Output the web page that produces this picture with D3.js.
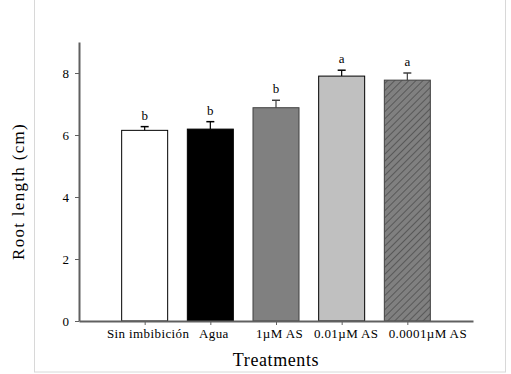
<!DOCTYPE html>
<html lang="en">
<head>
    <meta charset="UTF-8">
    <title>Root length</title>
    <script src="https://d3js.org/d3.v7.min.js"></script>
    <style>
        body { margin: 0; background: #ffffff; }
        svg text { fill: #000000; }
    </style>
</head>
<body>
    <svg width="511" height="374" id="chart"></svg>
    <script>
        // data
        const categories = ["Sin imbibición", "Agua", "1µM AS", "0.01µM AS", "0.0001µM AS"];
        const means = [6.15, 6.19, 6.88, 7.9, 7.77];
        const errors = [0.12, 0.24, 0.24, 0.19, 0.23];
        const letters = ["b", "b", "b", "a", "a"];
        const yTicks = [0, 2, 4, 6, 8];

        const fills = ["#ffffff", "#000000", "#808080", "#c0c0c0", "url(#hatch)"];
        const strokes = ["#000000", "#000000", "#404040", "#000000", "#404040"];
        // labels sit a little right of their ticks, the last one more so
        const labelShift = [3, 3, 3, 4, 20];

        const serif = "'Liberation Serif', 'Times New Roman', Times, serif";

        const margin = { top: 42, right: 38, bottom: 53, left: 79 };
        const width = 511 - margin.left - margin.right;
        const height = 374 - margin.top - margin.bottom;

        const root = d3.select("#chart");

        // light frame around the plot
        root.append("rect")
            .attr("x", 34.5).attr("y", -5)
            .attr("width", 471).attr("height", 377)
            .attr("fill", "none")
            .attr("stroke", "#d8d8d8");

        const defs = root.append("defs");
        const pat = defs.append("pattern")
            .attr("id", "hatch")
            .attr("patternUnits", "userSpaceOnUse")
            .attr("width", 5).attr("height", 5)
            .attr("patternTransform", "rotate(45)");
        pat.append("rect").attr("width", 5).attr("height", 5).attr("fill", "#808080");
        pat.append("line")
            .attr("x1", 0).attr("y1", 0).attr("x2", 0).attr("y2", 5)
            .attr("stroke", "#303030").attr("stroke-width", 1);

        const svg = root.append("g")
            .attr("transform", `translate(${margin.left},${margin.top})`);

        const x = d3.scalePoint()
            .domain(categories)
            .range([0, width])
            .padding(1);

        const y = d3.scaleLinear()
            .domain([0, 9])
            .range([height, 0]);

        const barW = 46;

        // bars
        svg.selectAll(".bar")
            .data(means)
            .join("rect")
            .attr("class", "bar")
            .attr("x", (d, i) => x(categories[i]) - barW / 2)
            .attr("y", d => y(d))
            .attr("width", barW)
            .attr("height", d => height - y(d))
            .attr("fill", (d, i) => fills[i])
            .attr("stroke", (d, i) => strokes[i])
            .attr("stroke-width", 1);

        // error bars (upper only)
        means.forEach((m, i) => {
            const cx = x(categories[i]);
            svg.append("line")
                .attr("x1", cx).attr("x2", cx)
                .attr("y1", y(m)).attr("y2", y(m + errors[i]))
                .attr("stroke", strokes[i]).attr("stroke-width", 1.2);
            svg.append("line")
                .attr("x1", cx - 4).attr("x2", cx + 4)
                .attr("y1", y(m + errors[i])).attr("y2", y(m + errors[i]))
                .attr("stroke", strokes[i]).attr("stroke-width", 1.5);
            svg.append("text")
                .attr("x", cx)
                .attr("y", y(m + errors[i]) - 7)
                .attr("text-anchor", "middle")
                .style("font-family", serif)
                .style("font-size", "13px")
                .text(letters[i]);
        });

        // axes
        const xAxis = svg.append("g")
            .attr("transform", `translate(0,${height})`)
            .call(d3.axisBottom(x).tickSize(4).tickSizeOuter(0).tickPadding(4));
        xAxis.select(".domain").attr("stroke", "#606060").attr("stroke-width", 2);
        xAxis.selectAll(".tick line").attr("stroke", "#606060");
        xAxis.selectAll(".tick text")
            .attr("x", (d, i) => labelShift[i])
            .style("letter-spacing", "0.4px");

        const yAxis = svg.append("g")
            .call(d3.axisLeft(y).tickValues(yTicks).tickSize(4).tickSizeOuter(0).tickPadding(6));
        yAxis.select(".domain").attr("stroke", "#606060").attr("stroke-width", 2);
        yAxis.selectAll(".tick line").attr("stroke", "#606060");

        svg.selectAll(".tick text")
            .style("font-family", serif)
            .style("font-size", "13px");

        // axis titles
        svg.append("text")
            .attr("x", width / 2)
            .attr("y", height + 45)
            .attr("text-anchor", "middle")
            .style("font-family", serif)
            .style("font-size", "18px")
            .style("letter-spacing", "0.6px")
            .text("Treatments");

        svg.append("text")
            .attr("transform", `translate(-55,${height / 2 + 10}) rotate(-90)`)
            .attr("text-anchor", "middle")
            .style("font-family", serif)
            .style("font-size", "17px")
            .style("letter-spacing", "1.3px")
            .text("Root length (cm)");
    </script>
</body>
</html>
